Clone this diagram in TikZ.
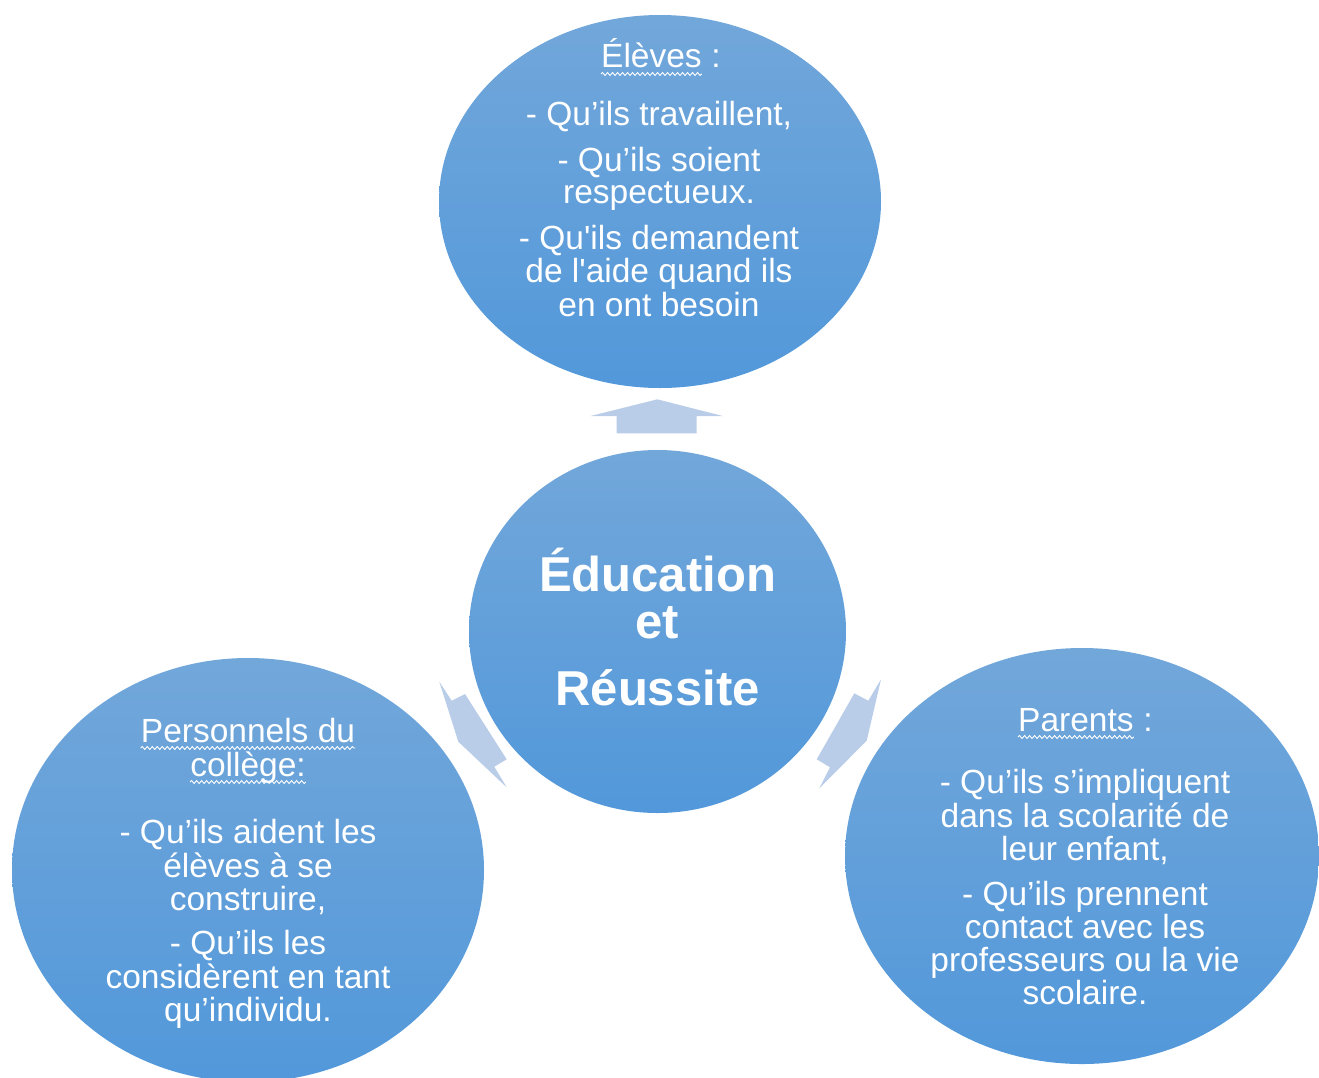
\documentclass[tikz,border=0pt]{standalone}
\usepackage{fontspec}
\setmainfont{Liberation Sans}[Ligatures=TeXOff]
\usetikzlibrary{shapes.geometric,decorations.pathmorphing}
\definecolor{ctop}{HTML}{72A7DA}
\definecolor{cbot}{HTML}{5298DA}
\definecolor{arr}{HTML}{B9CDE9}
\newcommand\myBody{\fontsize{33.5}{33.5}\selectfont}
\newcommand\myTitle{\fontsize{49}{49}\selectfont\bfseries}
\begin{document}
\begin{tikzpicture}[x=1pt,y=-1pt,
 bubble/.style={ellipse, draw=none, top color=ctop, bottom color=cbot, inner sep=0},
 txt/.style={text=white, font=\myBody, anchor=base, inner sep=0},
 ttl/.style={text=white, font=\myTitle, anchor=base, inner sep=0},
 wavy/.style={white, line width=0.9pt, decorate, decoration={snake, amplitude=1.5pt, segment length=5pt}},
 blockarrow/.style={fill=arr, draw=none}]
\useasboundingbox (0,0) rectangle (1319,1077);

% bubbles
\node[bubble, minimum width=442pt, minimum height=373pt] (top) at (660,201.5) {};
\node[bubble, minimum width=377pt, minimum height=363pt] (mid) at (657.5,631.5) {};
\node[bubble, minimum width=472pt, minimum height=424pt] (left) at (248,870) {};
\node[bubble, minimum width=474pt, minimum height=416pt] (right) at (1082,856) {};

% block arrows
\fill[blockarrow] (590.7,416) -- (657.3,399.3) -- (722.7,416) -- (696.7,416) -- (696.7,433.3) -- (616.7,433.3) -- (616.7,416) -- cycle;
\fill[blockarrow] (439.3,681.7) -- (451.7,700.7) -- (465,694) -- (506.7,759.3) -- (494.3,766.7) -- (506.7,787.3) -- (458.3,741.7) -- cycle;
\fill[blockarrow] (881,679.3) -- (868.3,700.7) -- (854.3,693.3) -- (816.7,759.3) -- (830,767.3) -- (819.3,788.3) -- (866.7,740.7) -- cycle;

% top text
\node[txt, anchor=base west] (el) at (601,67) {Élèves};
\node[txt, anchor=base west] (elc) at (el.base east) {\ :};
\draw[wavy] ([yshift=-7pt]el.base west) -- ([yshift=-7pt]el.base east);
\node[txt] (t1) at (659,125) {- Qu’ils travaillent,};
\node[txt] (t2) at (659,171) {- Qu’ils soient};
\node[txt] (t3) at (659,203) {respectueux.};
\node[txt] (t4) at (659,249) {- Qu'ils demandent};
\node[txt] (t5) at (659,282) {de l'aide quand ils};
\node[txt] (t6) at (659,316) {en ont besoin};

% centre text
\node[ttl] (c1) at (657.5,591) {Éducation};
\node[ttl] (c2) at (657.5,638) {et};
\node[ttl] (c3) at (657.5,705) {Réussite};

% left text
\node[txt] (p1) at (248,742) {Personnels du};
\draw[wavy] ([yshift=-6pt]p1.base west) -- ([yshift=-6pt]p1.base east);
\node[txt] (p2) at (248,776) {collège:};
\draw[wavy] ([yshift=-6pt]p2.base west) -- ([yshift=-6pt]p2.base east);
\node[txt] (l1) at (248,843) {- Qu’ils aident les};
\node[txt] (l2) at (248,877) {élèves à se};
\node[txt] (l3) at (248,910) {construire,};
\node[txt] (l4) at (248,954) {- Qu’ils les};
\node[txt] (l5) at (248,988) {considèrent en tant};
\node[txt] (l6) at (248,1021) {qu’individu.};

% right text
\node[txt, anchor=base west] (pa) at (1018,731) {Parents};
\node[txt, anchor=base west] (pac) at (pa.base east) {\ :};
\draw[wavy] ([yshift=-6pt]pa.base west) -- ([yshift=-6pt]pa.base east);
\node[txt] (r1) at (1085,793) {- Qu’ils s’impliquent};
\node[txt] (r2) at (1085,827) {dans la scolarité de};
\node[txt] (r3) at (1085,860) {leur enfant,};
\node[txt] (r4) at (1085,905) {- Qu’ils prennent};
\node[txt] (r5) at (1085,938) {contact avec les};
\node[txt] (r6) at (1085,971) {professeurs ou la vie};
\node[txt] (r7) at (1085,1004) {scolaire.};
\end{tikzpicture}
\end{document}
